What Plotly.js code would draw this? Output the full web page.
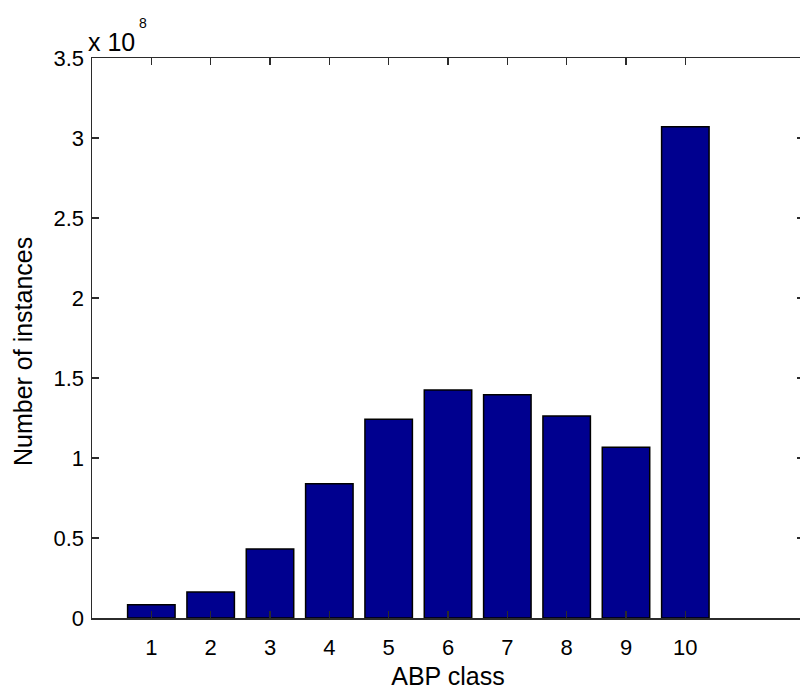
<!DOCTYPE html>
<html>
<head>
<meta charset="utf-8">
<script src="https://cdn.plot.ly/plotly-3.0.1.min.js"></script>
<style>
  html, body { margin: 0; padding: 0; overflow: hidden; background: #fff; }
  #chart { width: 806px; height: 696px; }
</style>
</head>
<body>
<div id="chart"></div>
<script>
// ABP class histogram: number of instances per class
const classes = [1, 2, 3, 4, 5, 6, 7, 8, 9, 10];
const instances = [0.083e8, 0.163e8, 0.431e8, 0.839e8, 1.242e8, 1.425e8, 1.396e8, 1.263e8, 1.067e8, 3.07e8];
const yTickVals = [0, 0.5e8, 1e8, 1.5e8, 2e8, 2.5e8, 3e8, 3.5e8];
const yTickText = ['0', '0.5', '1', '1.5', '2', '2.5', '3', '3.5'];

const font = 'Liberation Sans, Arial, Helvetica, sans-serif';
const axisColor = '#2b2b2b';

const trace = {
  type: 'bar',
  x: classes,
  y: instances,
  marker: { color: '#00008f', line: { color: '#000000', width: 1.5 } },
  hoverinfo: 'x+y'
};

const layout = {
  width: 806,
  height: 696,
  margin: { l: 92, r: 2, t: 58, b: 78 },
  paper_bgcolor: '#ffffff',
  plot_bgcolor: '#ffffff',
  bargap: 0.2,
  showlegend: false,
  font: { family: font, color: '#000000', size: 22 },
  xaxis: {
    range: [0, 12],
    tickvals: classes,
    ticktext: classes.map(String),
    ticks: 'inside',
    ticklen: 7,
    tickwidth: 1.2,
    tickcolor: axisColor,
    showline: true,
    linecolor: axisColor,
    linewidth: 1.5,
    mirror: 'ticks',
    showgrid: false,
    zeroline: false,
    tickfont: { family: font, size: 22, color: '#000000' },
    ticklabelstandoff: 9,
    title: { text: 'ABP class', font: { family: font, size: 25, color: '#000000' }, standoff: 8 }
  },
  yaxis: {
    range: [0, 3.5e8],
    tickvals: yTickVals,
    ticktext: yTickText,
    ticks: 'inside',
    ticklen: 7,
    tickwidth: 1.2,
    tickcolor: axisColor,
    showline: true,
    linecolor: axisColor,
    linewidth: 1.5,
    mirror: 'ticks',
    showgrid: false,
    zeroline: false,
    tickfont: { family: font, size: 22, color: '#000000' },
    ticklabelstandoff: 2
  },
  annotations: [
    // y-axis label, placed by hand so it can sit a little below the axis centre
    {
      xref: 'paper', yref: 'paper', x: 0, y: 0.5,
      xanchor: 'center', yanchor: 'middle', xshift: -69, yshift: -14,
      textangle: -90,
      text: 'Number of instances', showarrow: false,
      font: { family: font, size: 25, color: '#000000' }
    },
    // exponent label above the y axis
    {
      xref: 'paper', yref: 'paper', x: 0, y: 1,
      xanchor: 'left', yanchor: 'bottom', yshift: 0, xshift: -6,
      text: 'x 10', showarrow: false,
      font: { family: font, size: 25, color: '#000000' }
    },
    {
      xref: 'paper', yref: 'paper', x: 0, y: 1,
      xanchor: 'left', yanchor: 'bottom', yshift: 25, xshift: 45,
      text: '8', showarrow: false,
      font: { family: font, size: 14, color: '#000000' }
    }
  ]
};

Plotly.newPlot('chart', [trace], layout, { displayModeBar: false, staticPlot: true });
</script>
</body>
</html>
